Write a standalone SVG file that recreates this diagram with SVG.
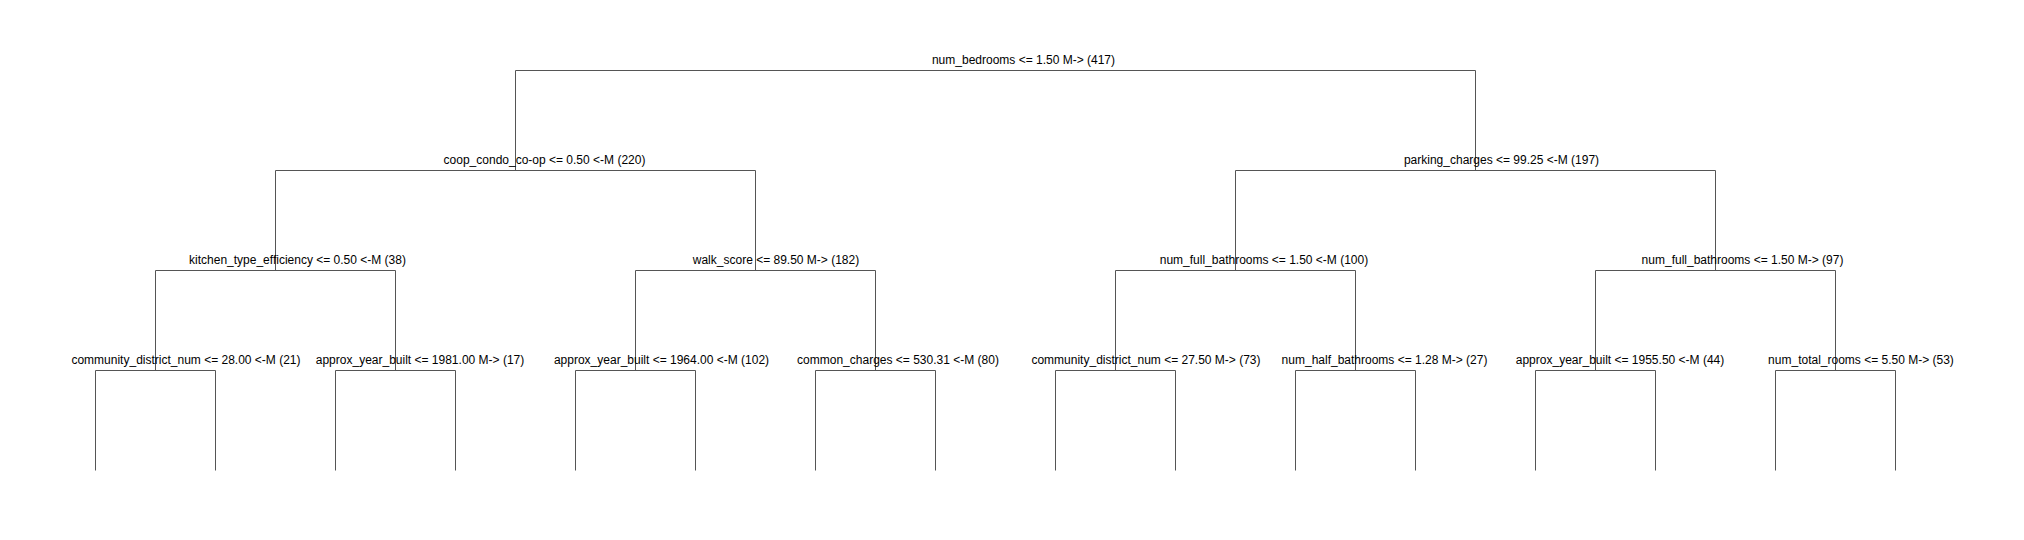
<svg xmlns="http://www.w3.org/2000/svg" width="2024" height="540" viewBox="0 0 2024 540">
<style>
  .lbl { font-family: "Liberation Sans", Arial, sans-serif; font-size: 12px; fill: #000; text-anchor: middle; }
  .edge { fill: none; stroke: #555; stroke-width: 1; }
</style>
<rect width="2024" height="540" fill="#fff"/>
<g id="connectors">
  <path class="edge" d="M515.5 170.5 V70.5 H1475.5 V170.5"/>
  <path class="edge" d="M275.5 270.5 V170.5 H755.5 V270.5"/>
  <path class="edge" d="M1235.5 270.5 V170.5 H1715.5 V270.5"/>
  <path class="edge" d="M155.5 370.5 V270.5 H395.5 V370.5"/>
  <path class="edge" d="M635.5 370.5 V270.5 H875.5 V370.5"/>
  <path class="edge" d="M1115.5 370.5 V270.5 H1355.5 V370.5"/>
  <path class="edge" d="M1595.5 370.5 V270.5 H1835.5 V370.5"/>
  <path class="edge" d="M95.5 470.5 V370.5 H215.5 V470.5"/>
  <path class="edge" d="M335.5 470.5 V370.5 H455.5 V470.5"/>
  <path class="edge" d="M575.5 470.5 V370.5 H695.5 V470.5"/>
  <path class="edge" d="M815.5 470.5 V370.5 H935.5 V470.5"/>
  <path class="edge" d="M1055.5 470.5 V370.5 H1175.5 V470.5"/>
  <path class="edge" d="M1295.5 470.5 V370.5 H1415.5 V470.5"/>
  <path class="edge" d="M1535.5 470.5 V370.5 H1655.5 V470.5"/>
  <path class="edge" d="M1775.5 470.5 V370.5 H1895.5 V470.5"/>
</g>
<g id="n-root"><text class="lbl" x="1023.5" y="64">num_bedrooms &lt;= 1.50 M-&gt; (417)</text></g>
<g id="n-coop"><text class="lbl" x="544.5" y="164">coop_condo_co-op &lt;= 0.50 &lt;-M (220)</text></g>
<g id="n-parking"><text class="lbl" x="1501.5" y="164">parking_charges &lt;= 99.25 &lt;-M (197)</text></g>
<g id="n-kitchen"><text class="lbl" x="297.5" y="264">kitchen_type_efficiency &lt;= 0.50 &lt;-M (38)</text></g>
<g id="n-walk"><text class="lbl" x="776" y="264">walk_score &lt;= 89.50 M-&gt; (182)</text></g>
<g id="n-fullbath-l"><text class="lbl" x="1264" y="264">num_full_bathrooms &lt;= 1.50 &lt;-M (100)</text></g>
<g id="n-fullbath-r"><text class="lbl" x="1742.5" y="264">num_full_bathrooms &lt;= 1.50 M-&gt; (97)</text></g>
<g id="n-cd28"><text class="lbl" x="186" y="364">community_district_num &lt;= 28.00 &lt;-M (21)</text></g>
<g id="n-ayb1981"><text class="lbl" x="420" y="364">approx_year_built &lt;= 1981.00 M-&gt; (17)</text></g>
<g id="n-ayb1964"><text class="lbl" x="661.5" y="364">approx_year_built &lt;= 1964.00 &lt;-M (102)</text></g>
<g id="n-common"><text class="lbl" x="898" y="364">common_charges &lt;= 530.31 &lt;-M (80)</text></g>
<g id="n-cd27"><text class="lbl" x="1146" y="364">community_district_num &lt;= 27.50 M-&gt; (73)</text></g>
<g id="n-halfbath"><text class="lbl" x="1384.5" y="364">num_half_bathrooms &lt;= 1.28 M-&gt; (27)</text></g>
<g id="n-ayb1955"><text class="lbl" x="1620" y="364">approx_year_built &lt;= 1955.50 &lt;-M (44)</text></g>
<g id="n-rooms"><text class="lbl" x="1861" y="364">num_total_rooms &lt;= 5.50 M-&gt; (53)</text></g>
</svg>
